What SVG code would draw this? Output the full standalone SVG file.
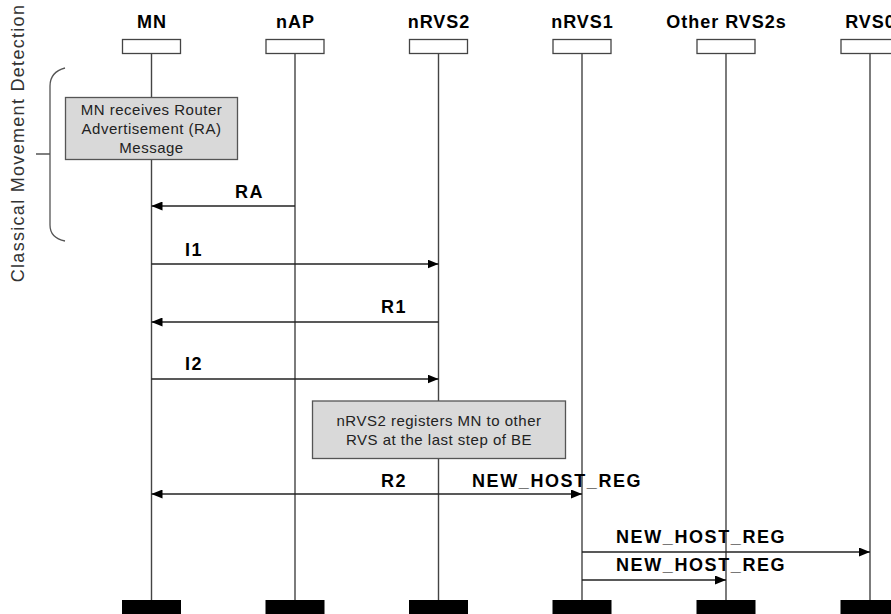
<svg xmlns="http://www.w3.org/2000/svg" width="891" height="614" viewBox="0 0 891 614">
<style>
.title{font-family:"Liberation Sans",Arial,sans-serif;font-weight:bold;font-size:18px;letter-spacing:1px;fill:#000;text-anchor:middle}
.lbl{font-family:"Liberation Sans",Arial,sans-serif;font-weight:bold;font-size:18px;letter-spacing:1.6px;fill:#000}
.note{font-family:"Liberation Sans",Arial,sans-serif;font-size:15px;letter-spacing:0.5px;fill:#222;text-anchor:middle}
.side{font-family:"Liberation Sans",Arial,sans-serif;font-size:18px;letter-spacing:1.3px;fill:#333;text-anchor:middle}
.head{fill:#fff;stroke:#444;stroke-width:1.3}
.foot{fill:#000}
.life{stroke:#444;stroke-width:1.4;fill:none}
.nbox{fill:#d9d9d9;stroke:#555;stroke-width:1.3}
.msg{stroke:#222;stroke-width:1.4;fill:none}
</style>
<defs>
<marker id="ah" viewBox="0 0 11 9" refX="11" refY="4.5" markerWidth="11" markerHeight="9" markerUnits="userSpaceOnUse" orient="auto">
<path d="M0,0 L11,4.5 L0,9 Z" fill="#000"/>
</marker>
</defs>
<text class="side" transform="translate(24,143) rotate(-90)">Classical Movement Detection</text>
<path d="M65,68 Q50,72 50,86 L50,225 Q50,238 65,241 M36,154 L50,154" fill="none" stroke="#555" stroke-width="1.3"/>

<g id="MN">
<text class="title" x="152" y="28">MN</text>
<rect class="head" x="122.5" y="39.5" width="58" height="14"/>
<line class="life" x1="151.5" y1="54" x2="151.5" y2="600"/>
<rect class="foot" x="122" y="600" width="59" height="14"/>
</g>
<g id="nAP">
<text class="title" x="295.5" y="28">nAP</text>
<rect class="head" x="266" y="39.5" width="58" height="14"/>
<line class="life" x1="295" y1="54" x2="295" y2="600"/>
<rect class="foot" x="265.5" y="600" width="59" height="14"/>
</g>
<g id="nRVS2">
<text class="title" x="439" y="28">nRVS2</text>
<rect class="head" x="409.5" y="39.5" width="58" height="14"/>
<line class="life" x1="438.5" y1="54" x2="438.5" y2="600"/>
<rect class="foot" x="409" y="600" width="59" height="14"/>
</g>
<g id="nRVS1">
<text class="title" x="582.5" y="28">nRVS1</text>
<rect class="head" x="553" y="39.5" width="58" height="14"/>
<line class="life" x1="582" y1="54" x2="582" y2="600"/>
<rect class="foot" x="552.5" y="600" width="59" height="14"/>
</g>
<g id="OtherRVS2s">
<text class="title" x="726.5" y="28">Other RVS2s</text>
<rect class="head" x="697" y="39.5" width="58" height="14"/>
<line class="life" x1="726" y1="54" x2="726" y2="600"/>
<rect class="foot" x="696.5" y="600" width="59" height="14"/>
</g>
<g id="RVS0">
<text class="title" x="870.5" y="28">RVS0</text>
<rect class="head" x="841" y="39.5" width="58" height="14"/>
<line class="life" x1="870" y1="54" x2="870" y2="600"/>
<rect class="foot" x="840.5" y="600" width="59" height="14"/>
</g>

<g id="note1">
<rect class="nbox" x="65.5" y="97.5" width="172" height="62"/>
<text class="note" x="151.5" y="114.5">MN receives Router</text>
<text class="note" x="151.5" y="134">Advertisement (RA)</text>
<text class="note" x="151.5" y="153">Message</text>
</g>
<g id="note2">
<rect class="nbox" x="312.5" y="401" width="253" height="57.5"/>
<text class="note" x="439" y="426">nRVS2 registers MN to other</text>
<text class="note" x="439" y="445">RVS at the last step of BE</text>
</g>

<g id="connectors">
<line class="msg" x1="295" y1="206" x2="151.5" y2="206" marker-end="url(#ah)"/>
<text class="lbl" x="235" y="198">RA</text>
<line class="msg" x1="151.5" y1="264" x2="438.5" y2="264" marker-end="url(#ah)"/>
<text class="lbl" x="185" y="256">I1</text>
<line class="msg" x1="438.5" y1="322" x2="151.5" y2="322" marker-end="url(#ah)"/>
<text class="lbl" x="381" y="313">R1</text>
<line class="msg" x1="151.5" y1="379" x2="438.5" y2="379" marker-end="url(#ah)"/>
<text class="lbl" x="185" y="370">I2</text>
<line class="msg" x1="438.5" y1="494" x2="151.5" y2="494" marker-end="url(#ah)"/>
<text class="lbl" x="381" y="487">R2</text>
<line class="msg" x1="438.5" y1="494" x2="582" y2="494" marker-end="url(#ah)"/>
<text class="lbl" x="472" y="487">NEW_HOST_REG</text>
<line class="msg" x1="582" y1="552" x2="870" y2="552" marker-end="url(#ah)"/>
<text class="lbl" x="616" y="543">NEW_HOST_REG</text>
<line class="msg" x1="582" y1="580" x2="726" y2="580" marker-end="url(#ah)"/>
<text class="lbl" x="616" y="571">NEW_HOST_REG</text>
</g>
</svg>
